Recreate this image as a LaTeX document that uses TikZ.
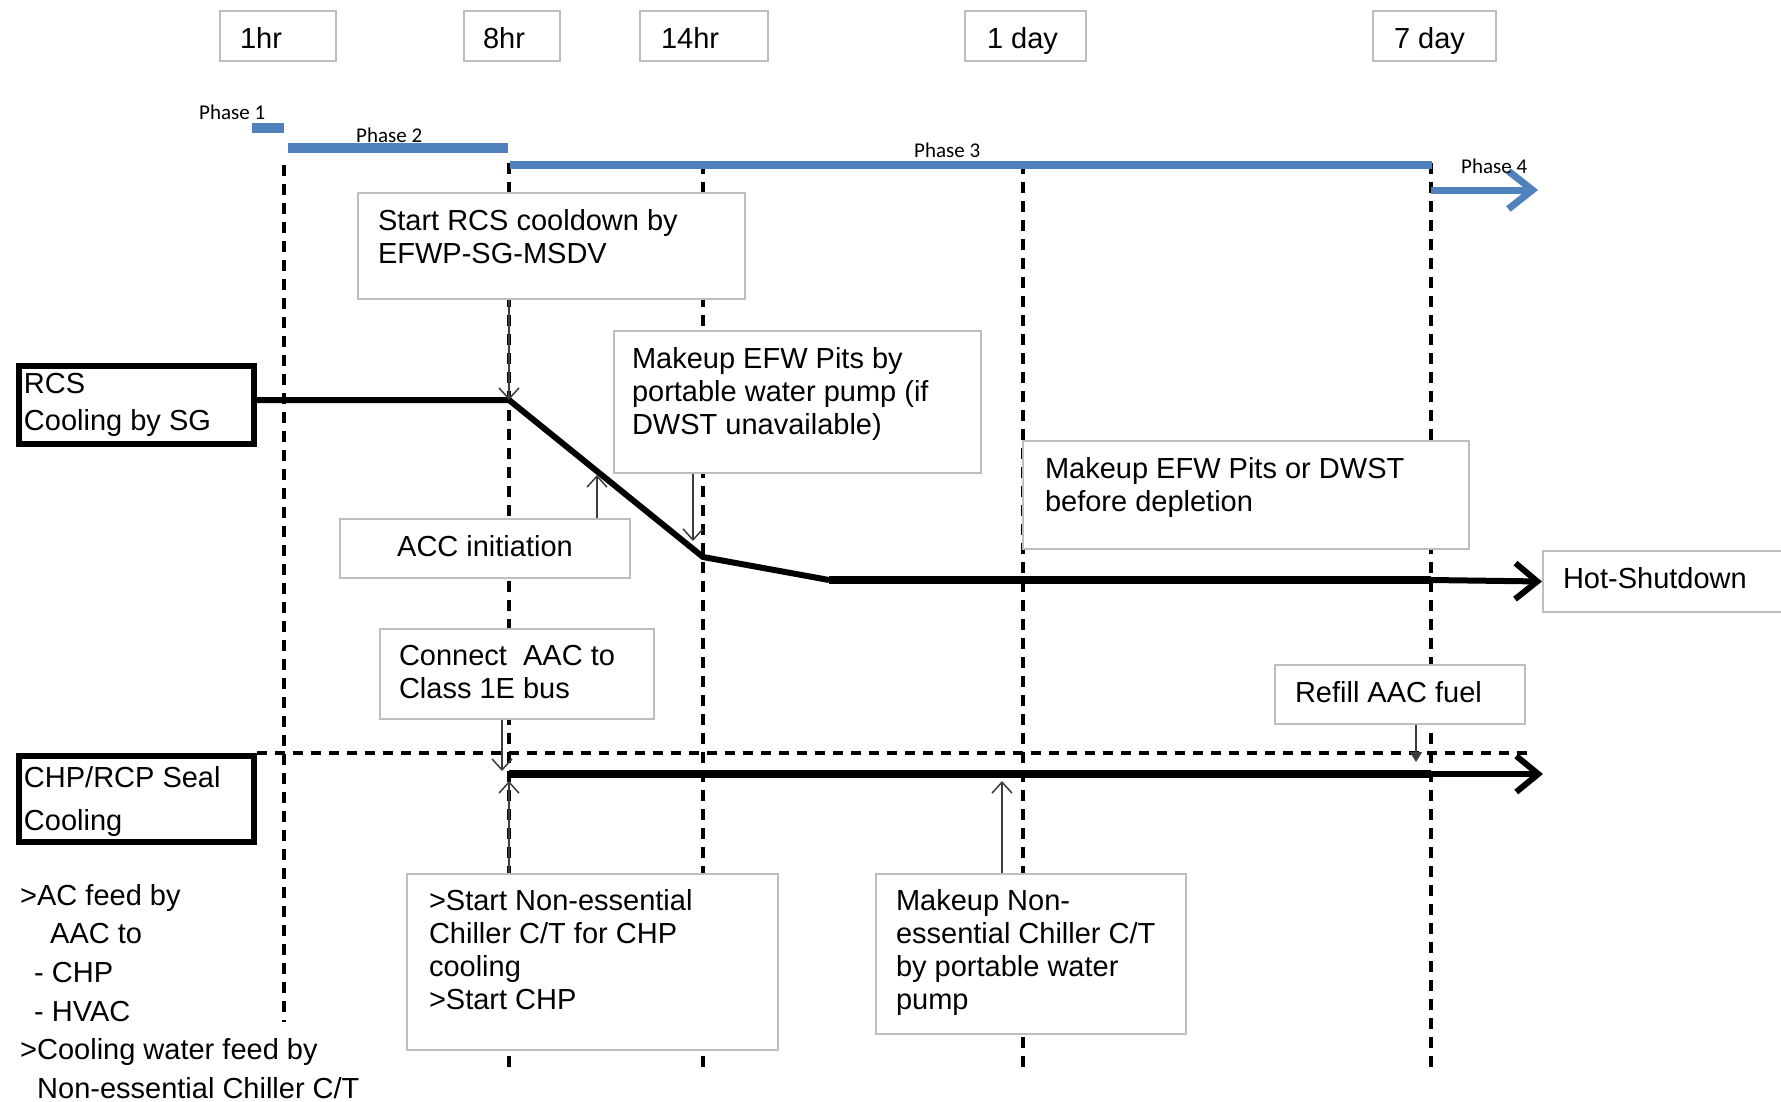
\documentclass[tikz,border=0pt]{standalone}
\usepackage{fontspec}
\setmainfont{Liberation Sans}
\newfontfamily\phasefont{Carlito}
\usetikzlibrary{arrows.meta}

\definecolor{phaseblue}{RGB}{79,129,189}
\definecolor{boxgray}{RGB}{190,190,190}
\definecolor{linkgray}{RGB}{60,60,60}

% box text: width, height, indent, top gap, lines
\newcommand{\boxtext}[5]{\parbox[t][#2][t]{#1}{\raggedright\leftskip=#3\relax\vspace*{#4}#5}}

\begin{document}
\begin{tikzpicture}[x=1pt, y=-1pt,
    evbox/.style={draw=boxgray, line width=2pt, fill=white, inner sep=0pt, anchor=north west,
      font=\fontsize{29}{33.3}\selectfont},
    statebox/.style={draw=black, line width=6pt, fill=white, inner sep=0pt, anchor=north west},
    timeline/.style={line width=4pt, dash pattern=on 11pt off 8pt},
    sepline/.style={line width=4pt, dash pattern=on 10pt off 8pt},
    phasebar/.style={phaseblue, line width=9pt},
    phaselabel/.style={font=\phasefont\fontsize{21}{24}\selectfont, anchor=base west, inner sep=0pt},
    link/.style={linkgray, line width=1.5pt, -{Straight Barb[length=11pt, width=20pt]}},
    mainline/.style={line width=6pt},
    mainarrow/.style={line width=6pt, -{Straight Barb[length=22pt, width=36pt]}}]
  \fill[white] (0,0) rectangle (1781,1101);
  \useasboundingbox (0,0) rectangle (1781,1101);

  % time marks
  \draw[timeline] (284,165) -- (284,1022);
  \foreach \tx in {509,703,1023,1431}
    \draw[timeline] (\tx,163) -- (\tx,1067);

  % phases
  \draw[phasebar, line width=10pt] (252,128) -- (284,128);
  \draw[phasebar, line width=10pt] (288,148) -- (508,148);
  \draw[phasebar, line width=8pt] (510,165) -- (1432,165);
  \draw[phasebar, line width=7pt, -{Straight Barb[length=24pt, width=38pt]}] (1431,190) -- (1538,190);
  \node[phaselabel] (ph1) at (199,119) {Phase 1};
  \node[phaselabel] (ph2) at (356,142) {Phase 2};
  \node[phaselabel] (ph3) at (914,157) {Phase 3};
  \node[phaselabel] (ph4) at (1461,173) {Phase 4};

  \node[evbox] (t1) at (219,10) {\boxtext{116pt}{50pt}{20pt}{16pt}{1hr}};
  \node[evbox] (t8) at (463,10) {\boxtext{96pt}{50pt}{19pt}{16pt}{8hr}};
  \node[evbox] (t14) at (639,10) {\boxtext{128pt}{50pt}{21pt}{16pt}{14hr}};
  \node[evbox] (tday) at (964,10) {\boxtext{121pt}{50pt}{22pt}{16pt}{1 day}};
  \node[evbox] (tweek) at (1372,10) {\boxtext{123pt}{50pt}{21pt}{16pt}{7 day}};

  % RCS cooling
  \node[statebox, font=\fontsize{29}{37}\selectfont] (rcs) at (16,363)
    {\boxtext{235pt}{78pt}{5pt}{7pt}{RCS\\Cooling by SG}};
  \node[evbox] (cooldown) at (357,192)
    {\boxtext{387pt}{106pt}{20pt}{16pt}{Start RCS cooldown by\\EFWP-SG-MSDV}};
  \node[evbox] (pits) at (613,330)
    {\boxtext{367pt}{142pt}{18pt}{16pt}{Makeup EFW Pits by\\portable water pump (if\\DWST unavailable)}};
  \node[evbox] (dwst) at (1022,440)
    {\boxtext{446pt}{108pt}{22pt}{16pt}{Makeup EFW Pits or DWST\\before depletion}};
  \node[evbox] (acc) at (339,518) {\boxtext{290pt}{59pt}{0pt}{16pt}{\centering ACC initiation}};
  \node[evbox] (hot) at (1542,550) {\boxtext{260pt}{61pt}{20pt}{16pt}{Hot-Shutdown}};

  % CHP/RCP seal cooling
  \coordinate (sepend) at (1534,753);
  \node[statebox, font=\fontsize{29}{43}\selectfont] (chp) at (16,753)
    {\boxtext{235pt}{86pt}{5pt}{10pt}{CHP/RCP Seal\\Cooling}};
  \draw[sepline] (chp.north east |- sepend) -- (sepend);
  \node[evbox] (aac) at (379,628) {\boxtext{274pt}{90pt}{19pt}{16pt}{Connect~~AAC to\\Class 1E bus}};
  \node[evbox] (refill) at (1274,664) {\boxtext{250pt}{59pt}{20pt}{16pt}{Refill AAC fuel}};
  \node[evbox] (chiller) at (406,873)
    {\boxtext{371pt}{176pt}{22pt}{15pt}{>Start Non-essential\\Chiller C/T for CHP\\cooling\\>Start CHP}};
  \node[evbox] (ctpump) at (875,873)
    {\boxtext{310pt}{160pt}{20pt}{15pt}{Makeup Non-\\essential Chiller C/T\\by portable water\\pump}};
  \node[inner sep=0pt, anchor=north west, font=\fontsize{29}{38.6}\selectfont] (feed) at (0,884)
    {\boxtext{500pt}{220pt}{20pt}{0pt}{>AC feed by\\\hspace*{30pt}AAC to\\\hspace*{14pt}- CHP\\\hspace*{14pt}- HVAC\\>Cooling water feed by\\\hspace*{17pt}Non-essential Chiller C/T}};

  % cooling paths
  \coordinate (cool8) at (509,400);
  \coordinate (cool14) at (703,557);
  \coordinate (cool15) at (829,580);
  \coordinate (cool7d) at (1431,580);
  \draw[mainline] (rcs.east |- cool8) -- (cool8) -- (cool14) -- (cool15);
  \draw[mainline, line width=8pt] (cool15) -- (cool7d);
  \draw[mainarrow] (cool7d) -- (hot.west);

  \coordinate (chp8) at (509,774);
  \coordinate (chp7d) at (1431,774);
  \coordinate (chpend) at (1543,774);
  \draw[mainline, line width=8pt] (chp8) -- (chp7d);
  \draw[mainarrow] (chp7d) -- (chpend);

  % actions
  \coordinate (accmark) at (597,475);
  \coordinate (pitsmark) at (693,541);
  \coordinate (aacmark) at (502,771);
  \coordinate (chillmark) at (509,781);
  \coordinate (ctmark) at (1002,781);
  \coordinate (refillmark) at (1416,762);
  \draw[link] (cooldown.south -| cool8) -- (cool8);
  \draw[link] (acc.north -| accmark) -- (accmark);
  \draw[link] (pits.south -| pitsmark) -- (pitsmark);
  \draw[link] (aac.south -| aacmark) -- (aacmark);
  \draw[link] (chiller.north -| chillmark) -- (chillmark);
  \draw[link] (ctpump.north -| ctmark) -- (ctmark);
  \draw[link, -{Triangle[length=10pt, width=12pt]}] (refill.south -| refillmark) -- (refillmark);
\end{tikzpicture}
\end{document}
